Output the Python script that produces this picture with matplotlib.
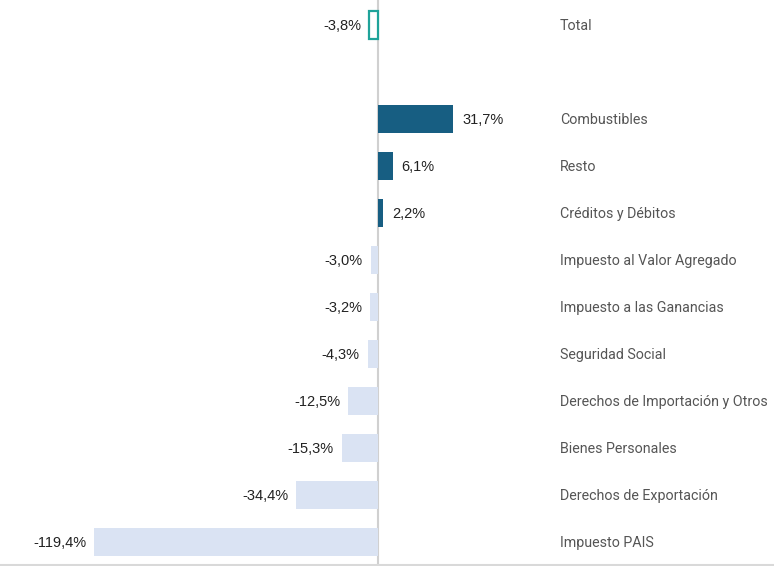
import matplotlib.pyplot as plt
from matplotlib.transforms import blended_transform_factory

# Datos (variación %)
categorias = ['Total', '', 'Combustibles', 'Resto', 'Créditos y Débitos',
              'Impuesto al Valor Agregado', 'Impuesto a las Ganancias',
              'Seguridad Social', 'Derechos de Importación y Otros',
              'Bienes Personales', 'Derechos de Exportación', 'Impuesto PAIS']
valores = [-3.8, None, 31.7, 6.1, 2.2, -3.0, -3.2, -4.3, -12.5, -15.3, -34.4, -119.4]

azul = '#175e82'
celeste = '#dae3f3'
verde = '#1fa39a'

fig = plt.figure(figsize=(7.74, 5.66), dpi=100)
ax = fig.add_axes([0, 1 / 566, 1, 565 / 566])

for i, (cat, v) in enumerate(zip(categorias, valores)):
    if v is None:
        continue
    if i == 0:
        ax.barh(i, v, height=0.58, facecolor='white', edgecolor=verde, linewidth=1.6)
    else:
        ax.barh(i, v, height=0.58, color=azul if v > 0 else celeste)
    txt = f'{v:.1f}%'.replace('.', ',')
    if v > 0:
        ax.text(v + 3.6, i + 0.02, txt, ha='left', va='center', fontsize=10.5, color='#222222',
                family=['Liberation Sans', 'DejaVu Sans'])
    else:
        ax.text(v - 3.4, i + 0.02, txt, ha='right', va='center', fontsize=10.5, color='#222222',
                family=['Liberation Sans', 'DejaVu Sans'])

trans = blended_transform_factory(ax.transAxes, ax.transData)
for i, cat in enumerate(categorias):
    if cat:
        ax.text(560 / 774, i + 0.02, cat, transform=trans, ha='left', va='center',
                fontsize=10.3, color='#555555',
                family=['Liberation Sans Narrow', 'Roboto', 'DejaVu Sans'])

ax.axvline(0, color='#d0d0d0', linewidth=1.5, zorder=0)
ax.set_xlim(-159, 166.5)
ax.set_ylim(11.49, -0.532)
ax.set_xticks([])
ax.set_yticks([])
for s in ['top', 'left', 'right']:
    ax.spines[s].set_visible(False)
ax.spines['bottom'].set_color('#d9d9d9')
ax.spines['bottom'].set_linewidth(1.5)

fig.savefig('out.png', dpi=100, facecolor='white')
